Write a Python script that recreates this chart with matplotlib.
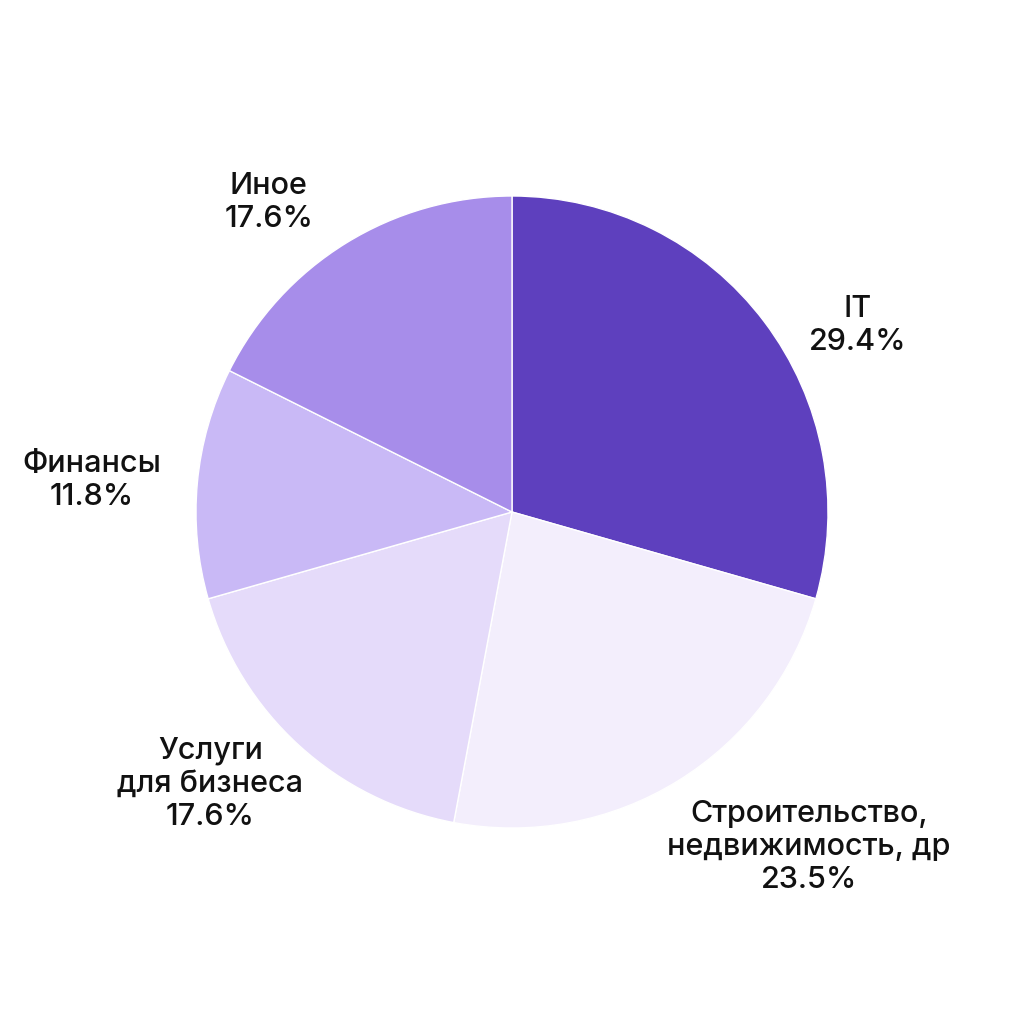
import numpy as np
import matplotlib
matplotlib.use("Agg")
import matplotlib.pyplot as plt

plt.rcParams['font.family'] = ['Inter', 'DejaVu Sans']

# данные
labels = ["IT", "Строительство,\nнедвижимость, др", "Услуги\nдля бизнеса", "Финансы", "Иное"]
shares = [29.4, 23.5, 17.6, 11.8, 17.6]
colors = ["#5e40be", "#f3eefc", "#e5dbfa", "#c9b9f6", "#a78dea"]
# где стоят подписи (в радиусах пирога от центра)
label_pos = [(1.095, 0.59), (0.94, -1.06), (-0.955, -0.86), (-1.33, 0.10), (-0.77, 0.98)]

fig = plt.figure(figsize=(10.24, 10.24), dpi=100)
ax = fig.add_axes([0, 0, 1, 1])

ax.pie(shares, colors=colors, startangle=90, counterclock=False,
       wedgeprops=dict(edgecolor="white", linewidth=1))

for lab, val, (x, y) in zip(labels, shares, label_pos):
    ax.text(x, y, "{0}\n{1}%".format(lab, val), ha="center", va="center",
            fontsize=22, fontweight="medium", linespacing=1.22, color="#111111")

lim = 512 / 316
ax.set_xlim(-lim, lim)
ax.set_ylim(-lim, lim)
ax.set_aspect("equal")
ax.axis("off")

fig.savefig("out.png", dpi=100, facecolor="white")
